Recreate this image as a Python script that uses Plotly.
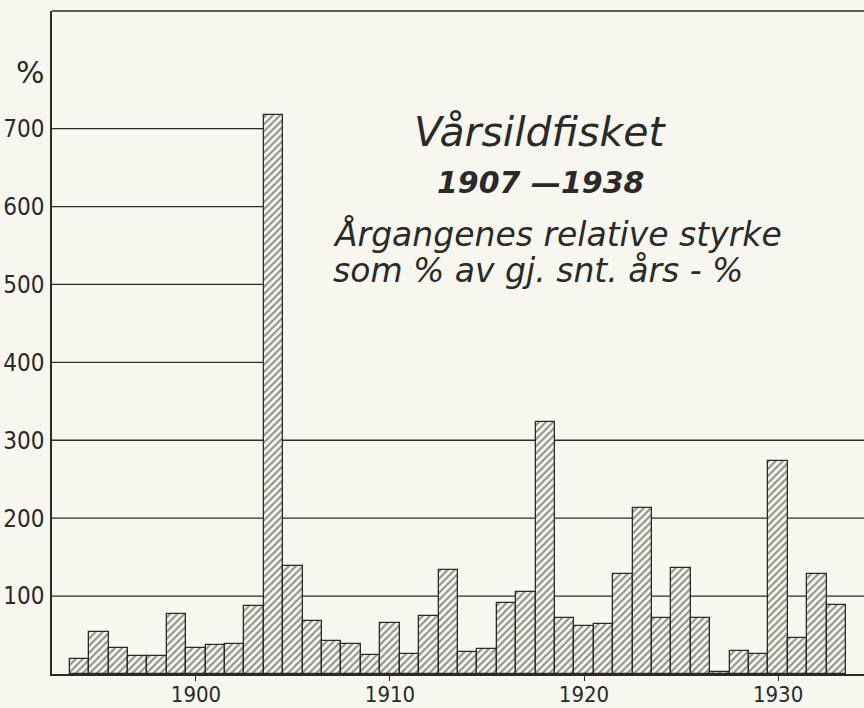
import plotly.graph_objects as go

# ---- data ----
years = list(range(1894, 1934))
values = [19, 54, 34, 23, 23, 77, 34, 37, 38, 87,
          718, 139, 68, 42, 38, 25, 65, 26, 75, 133,
          28, 32, 91, 105, 323, 72, 62, 64, 128, 213,
          72, 136, 72, 2, 30, 26, 274, 46, 128, 88]
y_ticks = [100, 200, 300, 400, 500, 600, 700]
x_ticks = [1900, 1910, 1920, 1930]
grid_full = [100, 200, 300]
grid_partial = [400, 500, 600, 700]
title1 = "Vårsildfisket"
title2 = "1907 —1938"
sub1 = "Årgangenes relative styrke"
sub2 = "som % av gj. snt. års - %"

# ---- style ----
BG = "#f8f7ef"
INK = "#2a2a2a"
W, H = 864, 708
L, R, T, B = 52, 0, 11, 34
NARROW = "Liberation Sans Narrow, DejaVu Sans Condensed, Roboto Condensed, Roboto, sans-serif"
HAND = "DejaVu Sans, Liberation Sans, sans-serif"
X_RANGE = [1892.58, 1934.43]

def px(x):
    return (x - L) / (W - L - R)

def py(y):
    return (H - B - y) / (H - B - T)

fig = go.Figure()
fig.add_trace(go.Bar(
    x=years, y=values, width=1.0,
    marker=dict(color=BG,
                line=dict(color=INK, width=1.3),
                pattern=dict(shape="/", fgcolor=INK, bgcolor=BG,
                             size=5, solidity=0.42)),
    hoverinfo="x+y", showlegend=False,
))

shapes = []
for g in grid_full:
    shapes.append(dict(type="line", xref="paper", yref="y", x0=0, x1=1,
                       y0=g, y1=g, line=dict(color=INK, width=1.3), layer="below"))
for g in grid_partial:
    shapes.append(dict(type="line", xref="x", yref="y", x0=X_RANGE[0], x1=years[10] - 0.5,
                       y0=g, y1=g, line=dict(color=INK, width=1.3), layer="below"))
# top frame line
shapes.append(dict(type="line", xref="paper", yref="paper", x0=0, x1=1, y0=1, y1=1,
                   line=dict(color=INK, width=1.6)))

annotations = [
    dict(text="%", x=px(30), y=py(72), xref="paper", yref="paper",
         showarrow=False, font=dict(family=HAND, size=30, color=INK),
         xanchor="center", yanchor="middle"),
    dict(text=f"<i>{title1}</i>", x=px(540), y=py(132), xref="paper", yref="paper",
         showarrow=False, font=dict(family=HAND, size=41, color=INK),
         xanchor="center", yanchor="middle"),
    dict(text=f"<b><i>{title2}</i></b>", x=px(540), y=py(183), xref="paper", yref="paper",
         showarrow=False, font=dict(family=HAND, size=30, color=INK),
         xanchor="center", yanchor="middle"),
    dict(text=f"<i>{sub1}</i>", x=px(331), y=py(234), xref="paper", yref="paper",
         showarrow=False, font=dict(family=HAND, size=33, color=INK),
         xanchor="left", yanchor="middle"),
    dict(text=f"<i>{sub2}</i>", x=px(331), y=py(270), xref="paper", yref="paper",
         showarrow=False, font=dict(family=HAND, size=33, color=INK),
         xanchor="left", yanchor="middle"),
]

fig.update_layout(
    width=W, height=H,
    margin=dict(l=L, r=R, t=T, b=B, pad=0, autoexpand=False),
    paper_bgcolor=BG, plot_bgcolor=BG,
    bargap=0,
    shapes=shapes,
    annotations=annotations,
    xaxis=dict(range=X_RANGE, tickvals=x_ticks, automargin=False,
               ticktext=[str(v) for v in x_ticks],
               ticks="outside", ticklen=5, tickwidth=1.3, tickcolor=INK,
               ticklabelstandoff=-5,
               showline=True, linecolor=INK, linewidth=1.6,
               showgrid=False, zeroline=False,
               tickfont=dict(family=NARROW, size=22, color=INK)),
    yaxis=dict(range=[0, 851], tickvals=y_ticks, automargin=False,
               ticktext=[str(v) for v in y_ticks],
               ticks="", ticklabelstandoff=1,
               showline=True, linecolor=INK, linewidth=1.6,
               showgrid=False, zeroline=False,
               tickfont=dict(family=NARROW, size=24, color=INK)),
)

fig.write_html("out.html", config={"displayModeBar": False},
               post_script="document.body.style.margin='0';document.body.style.background='%s';" % BG)
